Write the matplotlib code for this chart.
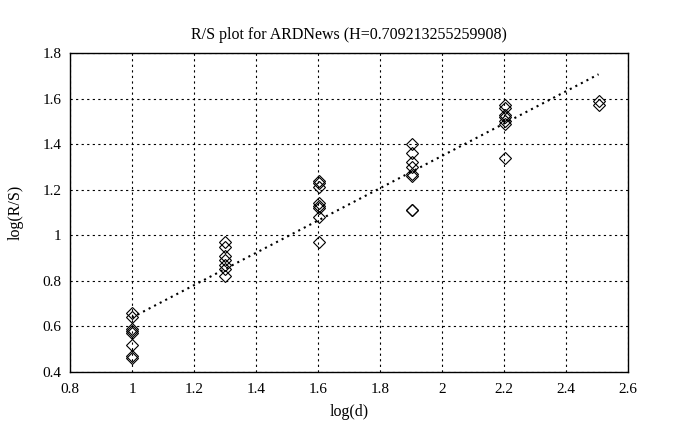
import numpy as np
import matplotlib
matplotlib.use("Agg")
import matplotlib.pyplot as plt

plt.rcParams['font.family'] = ['Liberation Serif', 'DejaVu Serif']

# log(d) groups and log(R/S) values
log_d = [1.0, 1.301, 1.602, 1.903, 2.204, 2.505]
log_rs = [
    [0.66, 0.64, 0.59, 0.58, 0.57, 0.52, 0.47, 0.46],
    [0.97, 0.95, 0.91, 0.89, 0.87, 0.85, 0.82],
    [1.24, 1.23, 1.21, 1.14, 1.13, 1.12, 1.08, 0.97],
    [1.40, 1.36, 1.32, 1.30, 1.27, 1.26, 1.11, 1.11],
    [1.57, 1.56, 1.53, 1.52, 1.50, 1.49, 1.34],
    [1.59, 1.57],
]
H = 0.709213255259908
intercept = -0.07

xticks = [0.8, 1, 1.2, 1.4, 1.6, 1.8, 2, 2.2, 2.4, 2.6]
xlabels = ['0.8', '1', '1.2', '1.4', '1.6', '1.8', '2', '2.2', '2.4', '2.6']
yticks = [0.4, 0.6, 0.8, 1, 1.2, 1.4, 1.6, 1.8]
ylabels = ['0.4', '0.6', '0.8', '1', '1.2', '1.4', '1.6', '1.8']

fig = plt.figure(figsize=(6.86, 4.30), dpi=100)
ax = fig.add_axes([70 / 686, 1 - 372 / 430, 558 / 686, 319 / 430])

xs = []
ys = []
for x, vals in zip(log_d, log_rs):
    xs += [x] * len(vals)
    ys += vals
ax.plot(xs, ys, linestyle='none', marker='D', markersize=6,
        markerfacecolor='none', markeredgecolor='black', markeredgewidth=0.8)

# fitted line
fx = np.array([log_d[0], log_d[-1]])
ax.plot(fx, H * fx + intercept, color='black', linestyle=(0, (1, 2)), linewidth=1.5)

ax.set_xlim(0.8, 2.6)
ax.set_ylim(0.4, 1.8)
ax.set_xticks(xticks)
ax.set_xticklabels(xlabels)
ax.set_yticks(yticks)
ax.set_yticklabels(ylabels)
ax.grid(True, color='black', linestyle=(0, (2, 3)), linewidth=0.8)
ax.tick_params(direction='in', length=0, labelsize=11)
ax.tick_params(axis='x', pad=8)
ax.tick_params(axis='y', pad=6)
for s in ax.spines.values():
    s.set_linewidth(1.0)

ax.set_title('R/S plot for ARDNews (H=0.709213255259908)', fontsize=11.5, pad=10)
ax.set_xlabel('log(d)', fontsize=11.5, labelpad=6)
ax.set_ylabel('log(R/S)', fontsize=11.5, labelpad=14)

fig.savefig('out.png', dpi=100)
